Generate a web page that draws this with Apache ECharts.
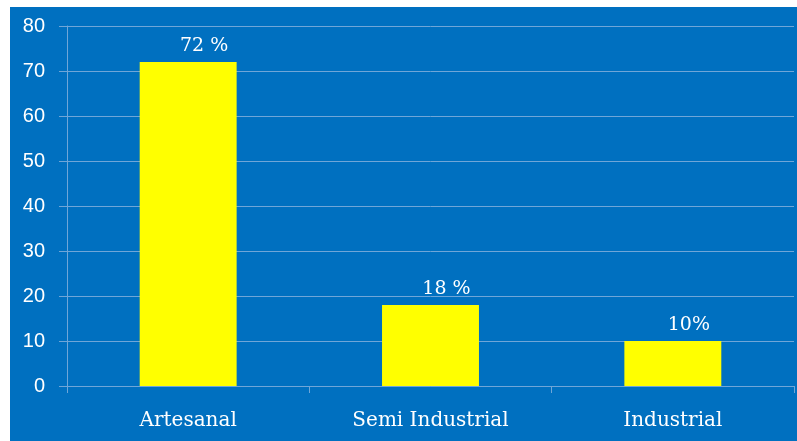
<!DOCTYPE html>
<html>
<head>
<meta charset="utf-8">
<script src="https://cdn.jsdelivr.net/npm/echarts@6/dist/echarts.min.js"></script>
<style>
html,body{margin:0;padding:0;background:#fff;width:797px;height:441px;overflow:hidden;}
#c{position:absolute;left:10px;top:7px;width:787px;height:434px;}
</style>
</head>
<body>
<div id="c"></div>
<script>
const categories = ['Artesanal', 'Semi Industrial', 'Industrial'];
const values = [72, 18, 10];
const valueLabels = ['72 %', '18 %', '10%'];
const yTicks = [0, 10, 20, 30, 40, 50, 60, 70, 80];

const chart = echarts.init(document.getElementById('c'));
const lineColor = '#6fa6d8';
chart.setOption({
  backgroundColor: '#0070C0',
  animation: false,
  grid: { left: 57, right: 3, top: 19, bottom: 55 },
  xAxis: {
    type: 'category',
    data: categories,
    axisLine: { lineStyle: { color: lineColor, width: 1 } },
    axisTick: { show: true, length: 7, lineStyle: { color: lineColor } },
    axisLabel: { color: '#ffffff', fontFamily: 'DejaVu Serif', fontSize: 20, margin: 25 }
  },
  yAxis: {
    type: 'value',
    min: yTicks[0], max: yTicks[yTicks.length - 1], interval: 10,
    axisLine: { show: true, lineStyle: { color: lineColor, width: 1 } },
    axisTick: { show: true, length: 8, lineStyle: { color: lineColor } },
    splitLine: { lineStyle: { color: lineColor, width: 1 } },
    axisLabel: { color: '#ffffff', fontFamily: 'Liberation Sans', fontSize: 20, margin: 22 }
  },
  series: [{
    type: 'bar',
    data: values,
    barWidth: '40%',
    itemStyle: { color: '#FFFF00' },
    label: {
      show: true,
      position: 'top',
      distance: 6,
      offset: [16, 0],
      color: '#ffffff',
      fontFamily: 'DejaVu Serif',
      fontSize: 19,
      formatter: p => valueLabels[p.dataIndex]
    }
  }]
});
</script>
</body>
</html>
